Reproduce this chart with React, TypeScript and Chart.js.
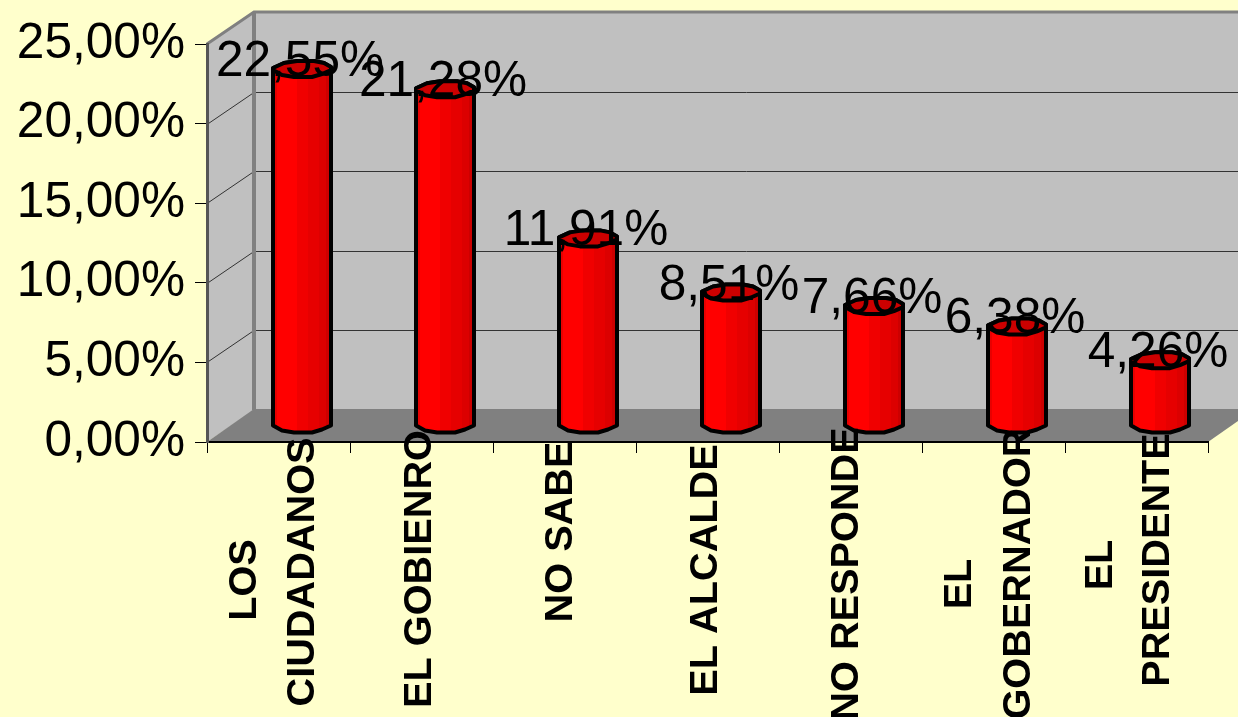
import React, { useEffect, useRef } from "react";
import { Chart, registerables } from "chart.js";

Chart.register(...registerables);

const categories: string[][] = [
  ["LOS", "CIUDADANOS"],
  ["EL GOBIENRO"],
  ["NO SABE"],
  ["EL ALCALDE"],
  ["NO RESPONDE"],
  ["EL", "GOBERNADOR"],
  ["EL", "PRESIDENTE"],
];
const values = [22.55, 21.28, 11.91, 8.51, 7.66, 6.38, 4.26];
const yTicks = [0, 5, 10, 15, 20, 25];

// label layout: [x offset from the tick centre, y centre] per line
const labelLayout: number[][][] = [
  [[-36, 580], [22, 572]],
  [[-4, 569]],
  [[-6, 532]],
  [[-4, 570]],
  [[-6, 574]],
  [[-36, 584], [23, 574]],
  [[-38, 565], [19, 560]],
];

const FONT = '"Liberation Sans", Arial, sans-serif';
const BG = "#FFFFCC";
const WALL = "#C0C0C0";
const FLOOR = "#808080";
const DEPTH_X = 47;
const DEPTH_Y = 32;
const BAR_DX = 23.5;
const BAR_DY = 14;
const BASE_DY = 17;
const HW = 29;
const TOP_BACK = [[-29, -1], [-18, -6], [-5, -8], [12, -8], [22, -6], [29, -2]];
const FRONT = [[29, 1], [20, 5], [10, 8], [-8, 8], [-20, 6], [-29, 1]];

const fmt = (v: number) => v.toFixed(2).replace(".", ",") + "%";

const poly = (ctx: CanvasRenderingContext2D, pts: number[][]) => {
  ctx.beginPath();
  pts.forEach(([x, y], i) => (i ? ctx.lineTo(x, y) : ctx.moveTo(x, y)));
  ctx.closePath();
};

const scene = {
  id: "scene",
  beforeDraw(chart: any) {
    const { ctx, scales, chartArea, width, height } = chart;
    const { left, right, top, bottom } = chartArea;
    const y = scales.y;
    ctx.save();
    ctx.fillStyle = BG;
    ctx.fillRect(0, 0, width, height);
    // side wall, back wall
    ctx.fillStyle = WALL;
    poly(ctx, [[left, top], [left + DEPTH_X, top - DEPTH_Y], [left + DEPTH_X, bottom - DEPTH_Y], [left, bottom]]);
    ctx.fill();
    ctx.fillRect(left + DEPTH_X, top - DEPTH_Y, right - left, bottom - top);
    // floor
    ctx.fillStyle = FLOOR;
    poly(ctx, [[left, bottom], [left + DEPTH_X, bottom - DEPTH_Y - 1], [right + DEPTH_X, bottom - DEPTH_Y - 1], [right, bottom]]);
    ctx.fill();
    // grid on side and back walls
    ctx.strokeStyle = "#333333";
    ctx.lineWidth = 1;
    yTicks.forEach((t) => {
      if (t === 0 || t === 25) return;
      const py = Math.round(y.getPixelForValue(t)) + 0.5;
      ctx.beginPath();
      ctx.moveTo(left, py);
      ctx.lineTo(left + DEPTH_X, py - DEPTH_Y);
      ctx.lineTo(right + DEPTH_X, py - DEPTH_Y);
      ctx.stroke();
    });
    // wall edges
    ctx.strokeStyle = FLOOR;
    ctx.lineWidth = 3;
    ctx.beginPath();
    ctx.moveTo(left, top);
    ctx.lineTo(left + DEPTH_X, top - DEPTH_Y);
    ctx.lineTo(right + DEPTH_X, top - DEPTH_Y);
    ctx.stroke();
    ctx.lineWidth = 4;
    ctx.beginPath();
    ctx.moveTo(left + DEPTH_X, top - DEPTH_Y);
    ctx.lineTo(left + DEPTH_X, bottom - DEPTH_Y);
    ctx.stroke();
    ctx.restore();
  },
  afterDraw(chart: any) {
    const { ctx, scales } = chart;
    const meta = chart.getDatasetMeta(0);
    ctx.save();
    meta.data.forEach((bar: any) => {
      const cx = bar.x + BAR_DX;
      const topY = bar.y - BAR_DY;
      const baseY = bar.base - BASE_DY;
      const side = [
        ...FRONT.map(([dx, dy]) => [cx + dx, baseY + dy]),
        ...TOP_BACK.map(([dx, dy]) => [cx + dx, topY + dy]),
      ];
      const g = ctx.createLinearGradient(cx - HW, 0, cx + HW, 0);
      const bands: [number, string][] = [
        [0, "#E80000"], [0.07, "#E80000"], [0.07, "#FF0000"], [0.42, "#FF0000"],
        [0.42, "#F00000"], [0.6, "#F00000"], [0.6, "#E60000"], [0.8, "#E60000"],
        [0.8, "#DC0000"], [0.92, "#DC0000"], [0.92, "#CC0000"], [1, "#CC0000"],
      ];
      bands.forEach(([s, c]) => g.addColorStop(s, c));
      ctx.fillStyle = g;
      ctx.strokeStyle = "#000000";
      ctx.lineWidth = 4;
      ctx.lineJoin = "round";
      poly(ctx, side);
      ctx.fill();
      ctx.stroke();
      // top cap
      const cap = [
        ...TOP_BACK.map(([dx, dy]) => [cx + dx, topY + dy]),
        ...FRONT.map(([dx, dy]) => [cx + dx, topY + dy]),
      ];
      ctx.fillStyle = "#CC0000";
      poly(ctx, cap);
      ctx.fill();
      ctx.stroke();
    });
    // value labels
    ctx.fillStyle = "#000000";
    ctx.font = `49.6px ${FONT}`;
    ctx.textAlign = "center";
    ctx.textBaseline = "alphabetic";
    meta.data.forEach((bar: any, i: number) => {
      ctx.fillText(fmt(values[i]), bar.x + BAR_DX - 2, bar.y - BAR_DY + 7);
    });
    // category labels
    ctx.font = `bold 39.7px ${FONT}`;
    categories.forEach((lines, i) => {
      const px = scales.x.getPixelForValue(i);
      lines.forEach((line, j) => {
        const [dx, cy] = labelLayout[i][j];
        ctx.save();
        ctx.translate(px + dx + 13, cy);
        ctx.rotate(-Math.PI / 2);
        ctx.fillText(line, 0, 0);
        ctx.restore();
      });
    });
    ctx.restore();
  },
};

export default function App() {
  const ref = useRef<HTMLCanvasElement>(null);
  useEffect(() => {
    document.body.style.margin = "0";
    document.body.style.background = BG;
    const chart = new Chart(ref.current as HTMLCanvasElement, {
      type: "bar",
      data: {
        labels: categories.map((c) => c.join(" ")),
        datasets: [{ data: values, backgroundColor: "transparent", borderWidth: 0 }],
      },
      options: {
        animation: false,
        responsive: false,
        layout: { padding: { top: 44, right: 30, left: 0, bottom: 0 } },
        plugins: { legend: { display: false }, tooltip: { enabled: false }, title: { display: false } },
        scales: {
          x: {
            offset: true,
            afterFit: (s: any) => { s.height = 275; },
            grid: { drawOnChartArea: false, drawTicks: true, tickLength: 11, color: "#000000", offset: true },
            border: { color: "#000000", width: 2 },
            ticks: { display: false },
          },
          y: {
            min: 0,
            max: 25,
            afterFit: (s: any) => { s.width = 207; },
            afterBuildTicks: (s: any) => { s.ticks = yTicks.map((value) => ({ value })); },
            grid: { drawOnChartArea: false, drawTicks: true, tickLength: 12, color: "#000000" },
            border: { color: "#555555", width: 3 },
            ticks: {
              padding: 10,
              color: "#000000",
              font: { family: FONT, size: 49.6 },
              callback: (v: any) => fmt(Number(v)),
            },
          },
        },
      },
      plugins: [scene],
    } as any);
    return () => chart.destroy();
  }, []);
  return <canvas ref={ref} width={1238} height={717} style={{ display: "block" }} />;
}
